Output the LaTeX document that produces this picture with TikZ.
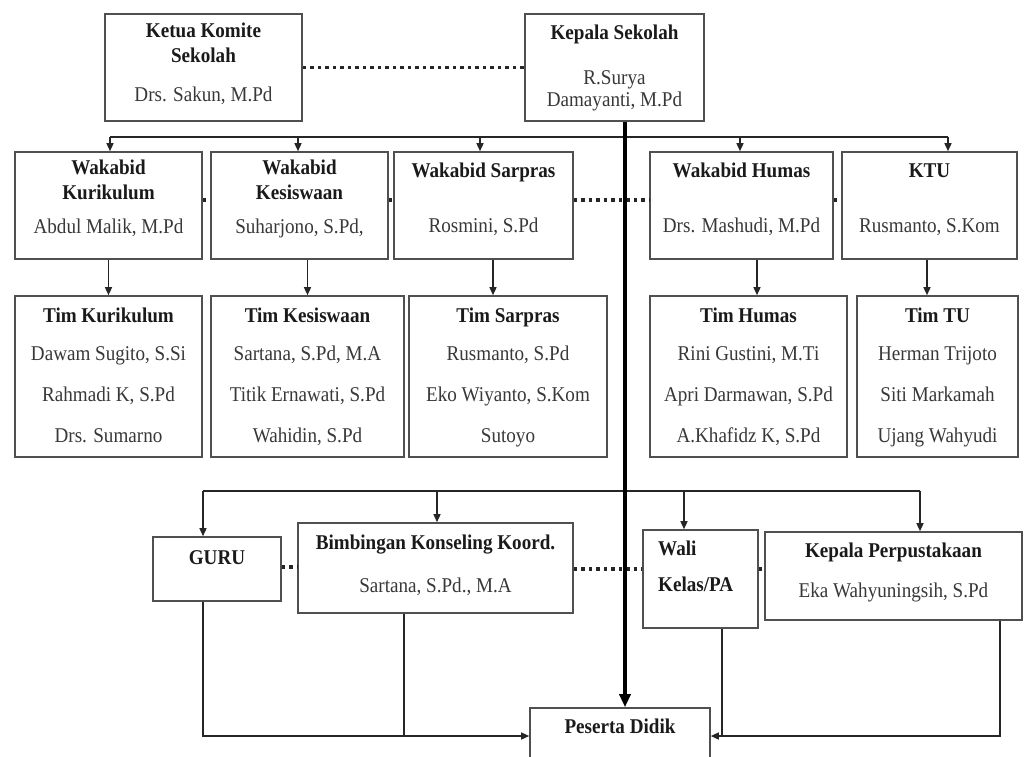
\documentclass[tikz,border=0pt]{standalone}
\usepackage{fontspec}
\setmainfont{Liberation Serif}[FakeStretch=0.91]
\usetikzlibrary{arrows.meta,fit}
\definecolor{bordc}{HTML}{505050}
\definecolor{titc}{HTML}{1A1A1A}
\definecolor{namec}{HTML}{383838}
\tikzset{
  box/.style={draw=bordc, line width=1.6pt, inner sep=0pt, fill=white},
  ttl/.style={font=\fontsize{21}{23}\selectfont\bfseries, text=titc, inner sep=0pt, text height=13.5pt, text depth=4.5pt},
  nm/.style={font=\fontsize{21}{23}\selectfont, text=namec, inner sep=0pt, text height=13.5pt, text depth=4.5pt},
  conn/.style={draw=black!85, line width=1.4pt},
  arr/.style={conn, -{Triangle[length=8pt,width=7pt]}},
  trunk/.style={draw=black, line width=4.5pt, -{Triangle[length=13pt,width=11pt]}},
  dots/.style={draw=black!85, line width=3.5pt, dash pattern=on 3.5pt off 4pt},
}
\begin{document}
\begin{tikzpicture}[x=1pt,y=-1pt]
\useasboundingbox (0,0) rectangle (1028,756);
% ---------- boxes ----------
\node[box, fit={(105,14) (302,121)}] (ketua) {};
\node[box, fit={(525,14) (704,121)}] (kepsek) {};
\node[box, fit={(15,152) (202,259)}] (wkur) {};
\node[box, fit={(211,152) (388,259)}] (wkes) {};
\node[box, fit={(394,152) (573,259)}] (wsar) {};
\node[box, fit={(650,152) (833,259)}] (whum) {};
\node[box, fit={(842,152) (1017,259)}] (ktu) {};
\node[box, fit={(15,296) (202,457)}] (tkur) {};
\node[box, fit={(211,296) (404,457)}] (tkes) {};
\node[box, fit={(409,296) (607,457)}] (tsar) {};
\node[box, fit={(650,296) (847,457)}] (thum) {};
\node[box, fit={(857,296) (1018,457)}] (ttu) {};
\node[box, fit={(153,537) (281,601)}] (guru) {};
\node[box, fit={(298,523) (573,613)}] (bk) {};
\node[box, fit={(643,530) (758,628)}] (wali) {};
\node[box, fit={(765,532) (1022,620)}] (kp) {};
\node[box, fit={(530,708) (710,764)}] (peserta) {};
% ---------- texts ----------
\node[ttl] (ketua-1) at (203.5,33) {Ketua Komite};
\node[ttl] (ketua-2) at (203.5,58) {Sekolah};
\node[nm]  (ketua-3) at (203.5,97) {Drs. Sakun, M.Pd};
\node[ttl] (kepsek-1) at (614.5,35) {Kepala Sekolah};
\node[nm]  (kepsek-2) at (614.5,80) {R.Surya};
\node[nm]  (kepsek-3) at (614.5,102) {Damayanti, M.Pd};
\node[ttl] (wkur-1) at (108.5,170) {Wakabid};
\node[ttl] (wkur-2) at (108.5,195) {Kurikulum};
\node[nm]  (wkur-3) at (108.5,229) {Abdul Malik, M.Pd};
\node[ttl] (wkes-1) at (299.5,170) {Wakabid};
\node[ttl] (wkes-2) at (299.5,195) {Kesiswaan};
\node[nm]  (wkes-3) at (299.5,229) {Suharjono, S.Pd,};
\node[ttl] (wsar-1) at (483.5,173) {Wakabid Sarpras};
\node[nm]  (wsar-2) at (483.5,228) {Rosmini, S.Pd};
\node[ttl] (whum-1) at (741.5,173) {Wakabid Humas};
\node[nm]  (whum-2) at (741.5,228) {Drs. Mashudi, M.Pd};
\node[ttl] (ktu-1) at (929.5,173) {KTU};
\node[nm]  (ktu-2) at (929.5,228) {Rusmanto, S.Kom};
\node[ttl] (tkur-1) at (108.5,318) {Tim Kurikulum};
\node[nm]  (tkur-2) at (108.5,356) {Dawam Sugito, S.Si};
\node[nm]  (tkur-3) at (108.5,397) {Rahmadi K, S.Pd};
\node[nm]  (tkur-4) at (108.5,438) {Drs. Sumarno};
\node[ttl] (tkes-1) at (307.5,318) {Tim Kesiswaan};
\node[nm]  (tkes-2) at (307.5,356) {Sartana, S.Pd, M.A};
\node[nm]  (tkes-3) at (307.5,397) {Titik Ernawati, S.Pd};
\node[nm]  (tkes-4) at (307.5,438) {Wahidin, S.Pd};
\node[ttl] (tsar-1) at (508,318) {Tim Sarpras};
\node[nm]  (tsar-2) at (508,356) {Rusmanto, S.Pd};
\node[nm]  (tsar-3) at (508,397) {Eko Wiyanto, S.Kom};
\node[nm]  (tsar-4) at (508,438) {Sutoyo};
\node[ttl] (thum-1) at (748.5,318) {Tim Humas};
\node[nm]  (thum-2) at (748.5,356) {Rini Gustini, M.Ti};
\node[nm]  (thum-3) at (748.5,397) {Apri Darmawan, S.Pd};
\node[nm]  (thum-4) at (748.5,438) {A.Khafidz K, S.Pd};
\node[ttl] (ttu-1) at (937.5,318) {Tim TU};
\node[nm]  (ttu-2) at (937.5,356) {Herman Trijoto};
\node[nm]  (ttu-3) at (937.5,397) {Siti Markamah};
\node[nm]  (ttu-4) at (937.5,438) {Ujang Wahyudi};
\node[ttl] (guru-1) at (217,560) {GURU};
\node[ttl] (bk-1) at (435.5,545) {Bimbingan Konseling Koord.};
\node[nm]  (bk-2) at (435.5,588) {Sartana, S.Pd., M.A};
\node[ttl, anchor=west] (wali-1) at (658,551) {Wali};
\node[ttl, anchor=west] (wali-2) at (658,587) {Kelas/PA};
\node[ttl] (kp-1) at (893.5,553) {Kepala Perpustakaan};
\node[nm]  (kp-2) at (893.5,593) {Eka Wahyuningsih, S.Pd};
\node[ttl] (peserta-1) at (620,729) {Peserta Didik};
% ---------- helper coordinates ----------
\coordinate (y200) at (0,200);
\coordinate (y567) at (0,567);
\coordinate (y569) at (0,569);
\coordinate (x493) at (493,0);
\coordinate (x757) at (757,0);
\coordinate (x927) at (927,0);
\coordinate (x203) at (203,0);
\coordinate (x404) at (404,0);
\coordinate (x722) at (722,0);
\coordinate (x1000) at (1000,0);
\coordinate (x625) at (625,0);
% ---------- top bus ----------
\coordinate (b1a) at (110,137);
\coordinate (b1b) at (298,137);
\coordinate (b1c) at (480,137);
\coordinate (b1d) at (740,137);
\coordinate (b1e) at (948,137);
\draw[conn] (b1a) -- (b1e);
\draw[arr] (b1a) -- (b1a |- wkur.north);
\draw[arr] (b1b) -- (b1b |- wkes.north);
\draw[arr] (b1c) -- (b1c |- wsar.north);
\draw[arr] (b1d) -- (b1d |- whum.north);
\draw[arr] (b1e) -- (b1e |- ktu.north);
% ---------- row 2 to row 3 ----------
\draw[arr] (wkur.south) -- (wkur.south |- tkur.north);
\draw[arr] (tkes.north |- wkes.south) -- (tkes.north);
\draw[arr] (wsar.south -| x493) -- (tsar.north -| x493);
\draw[arr] (whum.south -| x757) -- (thum.north -| x757);
\draw[arr] (ktu.south -| x927) -- (ttu.north -| x927);
% ---------- bottom bus ----------
\coordinate (b2a) at (203,491);
\coordinate (b2b) at (437,491);
\coordinate (b2c) at (684,491);
\coordinate (b2d) at (920,491);
\draw[conn] (b2a) -- (b2d);
\draw[arr] (b2a) -- (b2a |- guru.north);
\draw[arr] (b2b) -- (b2b |- bk.north);
\draw[arr] (b2c) -- (b2c |- wali.north);
\draw[arr] (b2d) -- (b2d |- kp.north);
% ---------- to Peserta Didik ----------
\draw[arr] (guru.south -| x203) |- (peserta.west);
\draw[conn] (bk.south -| x404) -- (x404 |- peserta.west);
\draw[arr] (kp.south -| x1000) |- (peserta.east);
\draw[conn] (wali.south -| x722) -- (x722 |- peserta.east);
% ---------- dotted relations ----------
\draw[dots] (ketua.east) -- (kepsek.west);
\draw[dots] (wkur.east |- y200) -- (wkes.west |- y200);
\draw[dots] (wkes.east |- y200) -- (wsar.west |- y200);
\draw[dots] (wsar.east |- y200) -- (whum.west |- y200);
\draw[dots] (whum.east |- y200) -- (ktu.west |- y200);
\draw[dots] (guru.east |- y567) -- (bk.west |- y567);
\draw[dots] (bk.east |- y569) -- (wali.west |- y569);
\draw[dots] (wali.east |- y569) -- (kp.west |- y569);
% ---------- trunk ----------
\draw[trunk] (kepsek.south -| x625) -- (peserta.north -| x625);
\end{tikzpicture}
\end{document}
